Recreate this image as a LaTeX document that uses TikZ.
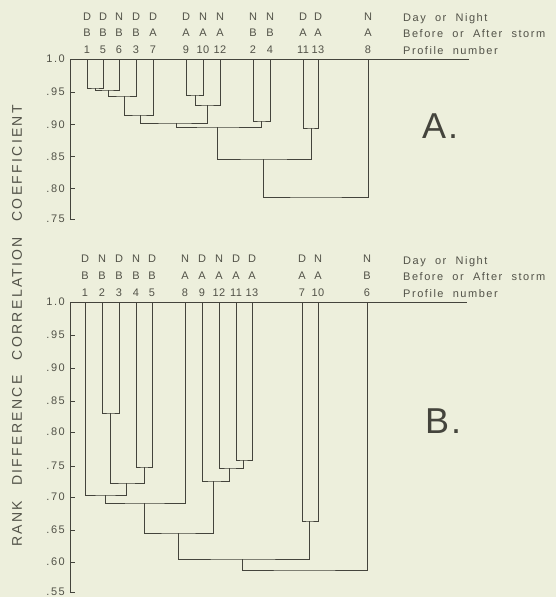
\documentclass[tikz,border=0pt]{standalone}
\usepackage{fontspec}
\newfontfamily\lett[LetterSpace=14,WordSpace=2]{Liberation Sans}
\newfontfamily\numf[LetterSpace=4]{Liberation Sans}
\newfontfamily\lettT[LetterSpace=16.5,WordSpace=2]{Liberation Sans}
\newfontfamily\plainf{Liberation Sans}
\definecolor{bg}{RGB}{237,239,220}
\definecolor{ink}{RGB}{68,68,60}
\definecolor{txt}{RGB}{82,82,72}
\tikzset{
  dend/.style={draw=ink, line width=0.95pt, line join=miter},
  axisline/.style={draw=ink, line width=0.95pt},
  lbl/.style={font=\lett\fontsize{11}{12}\selectfont, text=txt, inner sep=0pt},
  numlbl/.style={font=\numf\fontsize{11}{12}\selectfont, text=txt, inner sep=0pt},
  ticklbl/.style={font=\lett\fontsize{11}{12}\selectfont, text=txt, inner sep=0pt, anchor=base east},
  sidelbl/.style={font=\lett\fontsize{11}{12}\selectfont, text=txt, inner sep=0pt, anchor=base west},
  biglbl/.style={font=\plainf\fontsize{36}{40}\selectfont, text=ink, inner sep=0pt, anchor=base west},
  ylbl/.style={font=\lettT\fontsize{14}{16}\selectfont, text=txt, inner sep=0pt, rotate=90}
}
\begin{document}
\begin{tikzpicture}[x=1pt,y=-1pt]
\fill[bg] (0,0) rectangle (556,597);
\useasboundingbox (0,0) rectangle (556,597);

% ---------- Panel A ----------
\foreach \n/\x/\d/\b in {1/87/D/B, 5/103/D/B, 6/119/N/B, 3/136/D/B, 7/153/D/A,
  9/186/D/A, 10/203/N/A, 12/220/N/A, 2/253/N/B, 4/270/N/B, 11/303/D/A, 13/318/D/A, 8/368/N/A}{
  \coordinate (A\n) at (\x,59);
  \node[lbl,anchor=base] (Ad\n) at (\x,20) {\d};
  \node[lbl,anchor=base] (Ab\n) at (\x,36.7) {\b};
  \node[numlbl,anchor=base] (An\n) at (\x,53.3) {\n};
}
\node[sidelbl] (sA1) at (403,21) {Day or Night};
\node[sidelbl] (sA2) at (403,37.5) {Before or After storm};
\node[sidelbl] (sA3) at (403,54) {Profile number};

\draw[axisline] (70,219) -- (70,59) -- (469,59);
\foreach \y/\t in {59/1.0, 92/.95, 124.5/.90, 156.5/.85, 188.5/.80, 219/.75}{
  \node[ticklbl] at (65,\y+3.8) {\t};
}
\foreach \y in {92,124.5,156.5,188.5,219}{ \draw[axisline] (70,\y) -- (74.5,\y); }

\coordinate (a1) at (95,88);
\coordinate (a2) at (108,90);
\coordinate (a3) at (124,96);
\coordinate (a4) at (140,115);
\coordinate (a5) at (195,95);
\coordinate (a6) at (207,105);
\coordinate (a7) at (261,121);
\coordinate (a8) at (176,123);
\coordinate (a9) at (217,127);
\coordinate (a10) at (311,128);
\coordinate (a11) at (263,159);
\coordinate (a12) at (316,197);
\draw[dend] (A1) |- (a1) -| (A5);
\draw[dend] (a1) |- (a2) -| (A6);
\draw[dend] (a2) |- (a3) -| (A3);
\draw[dend] (a3) |- (a4) -| (A7);
\draw[dend] (A9) |- (a5) -| (A10);
\draw[dend] (a5) |- (a6) -| (A12);
\draw[dend] (A2) |- (a7) -| (A4);
\draw[dend] (a4) |- (a8) -| (a6);
\draw[dend] (a8) |- (a9) -| (a7);
\draw[dend] (A11) |- (a10) -| (A13);
\draw[dend] (a9) |- (a11) -| (a10);
\draw[dend] (a11) |- (a12) -| (A8);

\node[biglbl] (labA) at (422,138) {A\kern2pt.};

% ---------- Panel B ----------
\foreach \n/\x/\d/\b in {1/85/D/B, 2/102/N/B, 3/119/D/B, 4/136/N/B, 5/152/D/B,
  8/185/N/A, 9/202/D/A, 12/219/N/A, 11/236/D/A, 13/252/D/A, 7/302/D/A, 10/318/N/A, 6/367/N/B}{
  \coordinate (B\n) at (\x,302);
  \node[lbl,anchor=base] (Bd\n) at (\x,262.7) {\d};
  \node[lbl,anchor=base] (Bb\n) at (\x,279.3) {\b};
  \node[numlbl,anchor=base] (Bn\n) at (\x,296.7) {\n};
}
\node[sidelbl] (sB1) at (403,264) {Day or Night};
\node[sidelbl] (sB2) at (403,280.5) {Before or After storm};
\node[sidelbl] (sB3) at (403,297.5) {Profile number};

\draw[axisline] (70,592) -- (70,302) -- (467,302);
\foreach \y/\t in {302/1.0, 335/.95, 368/.90, 401/.85, 432/.80, 466/.75, 497/.70, 530/.65, 562/.60, 592/.55}{
  \node[ticklbl] at (65,\y+3.8) {\t};
}
\foreach \y in {335,368,401,432,466,497,530,562,592}{ \draw[axisline] (70,\y) -- (74.5,\y); }

\coordinate (b1) at (110.5,413);
\coordinate (b2) at (144,467);
\coordinate (b3) at (126,483);
\coordinate (b4) at (105,495);
\coordinate (b5) at (144,503);
\coordinate (b6) at (243,460);
\coordinate (b7) at (229,468);
\coordinate (b8) at (213,481);
\coordinate (b9) at (178,533);
\coordinate (b10) at (309,521);
\coordinate (b11) at (242,559);
\coordinate (b12) at (304,570);
\draw[dend] (B2) |- (b1) -| (B3);
\draw[dend] (B4) |- (b2) -| (B5);
\draw[dend] (b1) |- (b3) -| (b2);
\draw[dend] (B1) |- (b4) -| (b3);
\draw[dend] (b4) |- (b5) -| (B8);
\draw[dend] (B11) |- (b6) -| (B13);
\draw[dend] (B12) |- (b7) -| (b6);
\draw[dend] (B9) |- (b8) -| (b7);
\draw[dend] (b5) |- (b9) -| (b8);
\draw[dend] (B7) |- (b10) -| (B10);
\draw[dend] (b9) |- (b11) -| (b10);
\draw[dend] (b11) |- (b12) -| (B6);

\node[biglbl] (labB) at (425,433) {B\kern2pt.};

% ---------- y-axis title ----------
\node[ylbl] (ytitle) at (17,326) {RANK\hspace{3pt} DIFFERENCE\hspace{3pt} CORRELATION\hspace{3pt} COEFFICIENT};
\end{tikzpicture}
\end{document}
